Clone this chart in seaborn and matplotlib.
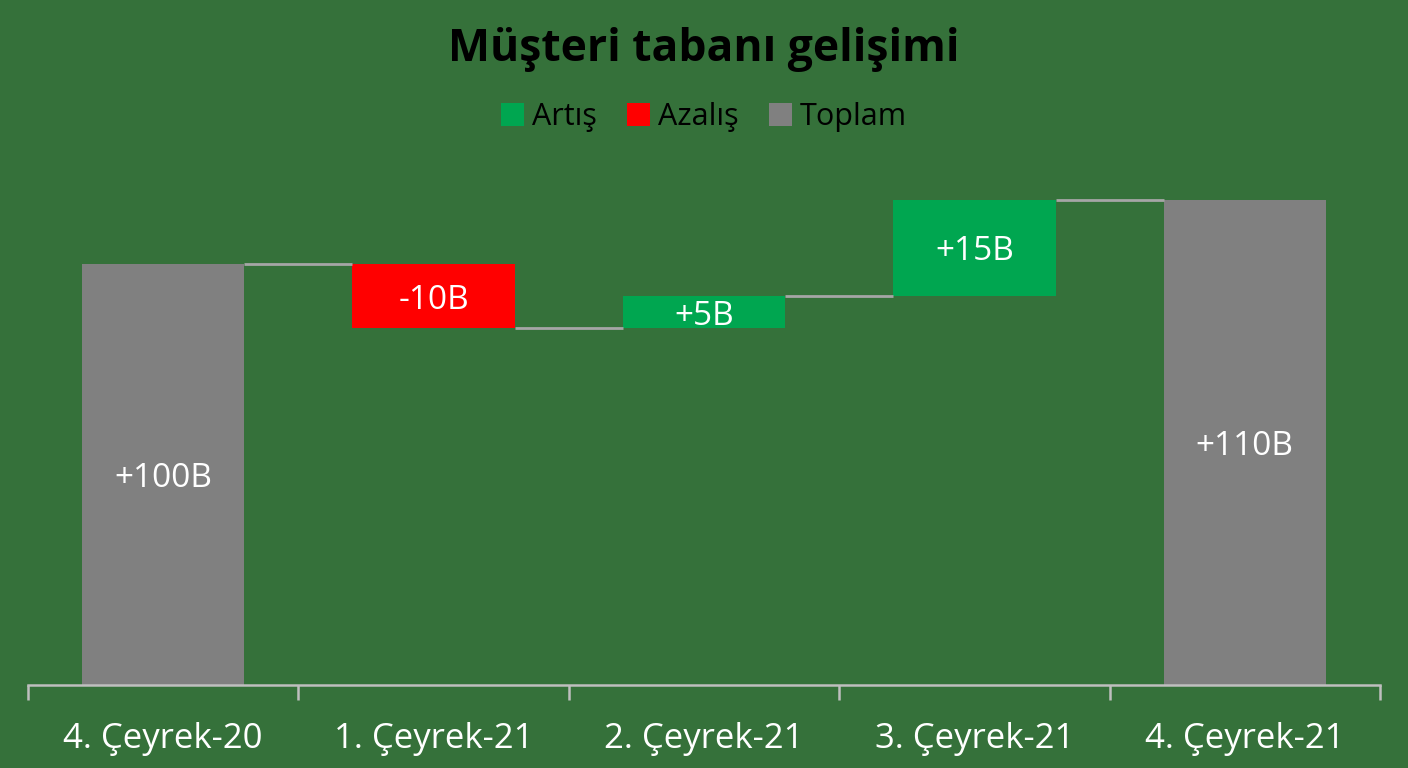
import numpy as np
import pandas as pd
import matplotlib
matplotlib.use("Agg")
import matplotlib.pyplot as plt
from matplotlib.patches import Patch
import seaborn as sns

# ---- data ----
categories = ["4. Çeyrek-20", "1. Çeyrek-21", "2. Çeyrek-21", "3. Çeyrek-21", "4. Çeyrek-21"]
changes = [100, -10, 5, 15, 110]
kinds = ["Toplam", "Azalış", "Artış", "Artış", "Toplam"]
value_labels = ["+100B", "-10B", "+5B", "+15B", "+110B"]
legend_labels = ["Artış", "Azalış", "Toplam"]
title = "Müşteri tabanı gelişimi"

# ---- styling ----
BG = "#35713A"
COLORS = {"Artış": "#00A650", "Azalış": "#FF0000", "Toplam": "#808080"}

sns.set_theme(style="white")
plt.rcParams["font.family"] = ["Open Sans", "DejaVu Sans"]

# waterfall geometry computed from data
bottoms, heights, running = [], [], 0.0
for v, k in zip(changes, kinds):
    if k == "Toplam":
        bottoms.append(0.0)
        heights.append(v)
        running = v
    else:
        start = running
        running = running + v
        bottoms.append(min(start, running))
        heights.append(abs(v))
levels = []
r = 0.0
for v, k in zip(changes, kinds):
    r = v if k == "Toplam" else r + v
    levels.append(r)

df = pd.DataFrame({"cat": categories, "h": heights, "b": bottoms, "kind": kinds})

fig = plt.figure(figsize=(14.08, 7.68), dpi=100, facecolor=BG)
ax = fig.add_axes([28 / 1408, 83 / 768, 1352 / 1408, 545 / 768])
ax.set_facecolor(BG)

W = 0.6
sns.barplot(data=df, x="cat", y="h", bottom=df["b"].to_numpy(), color="#808080",
            width=W, ax=ax, linewidth=0, saturation=1)
for p, k in zip(ax.patches, kinds):
    p.set_facecolor(COLORS[k])
    p.set_edgecolor("none")

# connectors
for i in range(len(categories) - 1):
    ax.hlines(levels[i], i + W / 2, i + 1 - W / 2, color="#A6A6A6", lw=2, zorder=1)

YMIN = 34.5
# value labels
for i, (b, h, lab) in enumerate(zip(bottoms, heights, value_labels)):
    ymin = max(b, YMIN)
    yc = (ymin + b + h) / 2
    ax.text(i, yc - 0.6, lab, ha="center", va="center", color="white", fontsize=24)

ax.set_xlim(-0.5, len(categories) - 0.5)
ax.set_ylim(YMIN, 119.3)
ax.set_xlabel("")
ax.set_ylabel("")
ax.set_yticks([])
for s in ["top", "right", "left"]:
    ax.spines[s].set_visible(False)
ax.spines["bottom"].set_color("#BFBFBF")
ax.spines["bottom"].set_linewidth(1.8)
ax.set_xticks(np.arange(len(categories)))
ax.set_xticklabels(categories, color="white", fontsize=25)
ax.set_xticks(np.arange(len(categories) + 1) - 0.5, minor=True)
ax.tick_params(axis="x", which="major", length=0, pad=27, bottom=True)
ax.tick_params(axis="x", which="minor", length=11, width=1.8, color="#BFBFBF",
               direction="out", bottom=True)

fig.text(0.5, 1 - 50 / 768, title, ha="center", va="center", fontsize=32,
         fontweight="bold", color="black")

handles = [Patch(facecolor=COLORS[k], edgecolor="none") for k in legend_labels]
fig.legend(handles, legend_labels, loc="center", bbox_to_anchor=(0.5, 1 - 117 / 768),
           ncol=3, frameon=False, fontsize=22, handlelength=0.75, handleheight=0.75,
           handletextpad=0.25, columnspacing=1.0, labelcolor="black")

fig.savefig("out.png", dpi=100, facecolor=BG)
